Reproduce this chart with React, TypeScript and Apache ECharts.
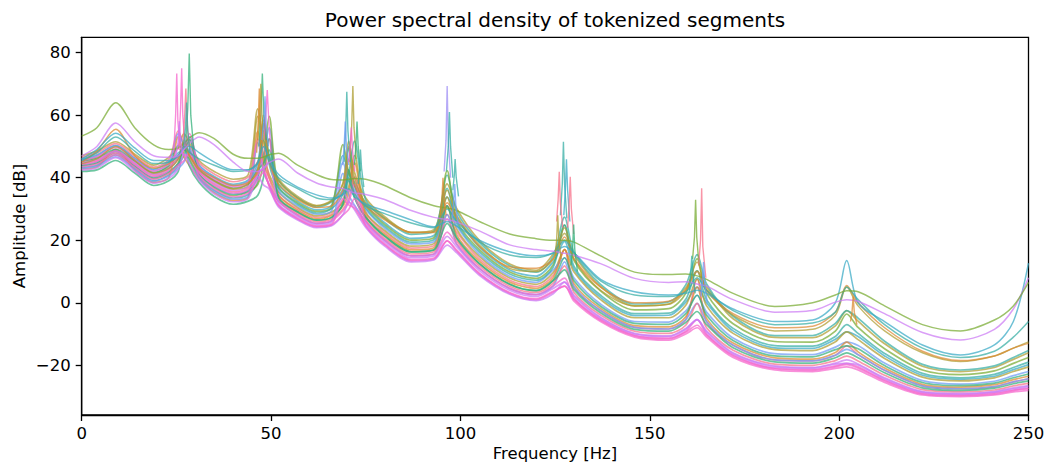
import React, { useEffect, useRef } from "react";
import * as echarts from "echarts";

// Frequency grid (Hz) shared by all spectra
const FREQ = [0, 4, 9, 14, 19, 23, 25.5, 27, 28.5, 31, 35, 40, 44, 46.5, 48, 49.5, 52, 57, 62, 66, 69, 70.5, 72, 75, 80, 87, 93, 96.5, 99, 105, 113, 120, 124.5, 127.5, 130, 137, 146, 155, 159.5, 162.5, 165, 172, 183, 193, 199, 202, 205, 212, 222, 232, 241, 246, 250];

const X_TICKS = [0, 50, 100, 150, 200, 250];
const Y_TICKS = [-20, 0, 20, 40, 60, 80];

// Dense band of spectra (dB)
const D1 = [43.5, 44.3, 47.3, 43.3, 39.5, 41.3, 44, 45.4, 48.4, 40.6, 36.4, 33.9, 35.1, 39.3, 41.6, 37.5, 31.2, 27, 24.5, 25.1, 33.3, 31.3, 30.3, 24.8, 18.8, 13.8, 14.3, 19.8, 16.9, 9.5, 3.3, 1.3, 3.7, 5.3, 0.5, -6, -11, -12, -10, -8, -11, -17.5, -21.5, -22, -21, -20.5, -21.5, -25.5, -29.5, -30, -29.5, -28.5, -28];
const D2 = [42.5, 43.1, 46.4, 42.1, 38.2, 39.8, 42.8, 47.4, 44.3, 39.2, 34.8, 32.3, 33.4, 40.4, 37.7, 36.4, 30.6, 26.5, 24, 24.6, 28.2, 32.2, 29.8, 24.1, 18.1, 13.1, 13.7, 18.4, 16, 8.8, 2.7, 0.7, 2.9, 6.6, 2, -4.9, -10, -10.8, -8.5, -5.4, -9.4, -16.3, -20.5, -20.9, -19.6, -19.4, -19.9, -24.3, -28.6, -29.2, -28.6, -27.5, -26.8];
const D3 = [44.5, 45.5, 48.5, 44.5, 40.8, 42.8, 46, 51.2, 47.3, 42, 38, 35.5, 36.8, 41.5, 50, 39.8, 33, 28.5, 25.9, 26.8, 30, 33.2, 40.2, 26.6, 20.6, 15.6, 16.3, 26.8, 19.8, 11.8, 5.3, 3.3, 6.3, 11.8, 3.3, -3.9, -9.1, -9.8, -7.2, -0.2, -8, -15.2, -19.6, -20, -18.5, -17.1, -18.6, -23.2, -27.8, -28.5, -27.9, -26.6, -25.8];
const D4 = [43, 43.7, 46.7, 42.7, 38.8, 40.5, 43, 45, 49.3, 39.9, 35.6, 33.1, 34.2, 51.2, 42, 37.8, 32.4, 28, 25.4, 26.2, 41.4, 34.5, 31.3, 26, 20, 15, 15.6, 28.2, 18.8, 11, 4.6, 2.6, 5.4, 13.1, 5.1, -2.5, -7.9, -8.4, -5.4, -0.2, -6, -13.6, -18.3, -18.6, -16.8, -14.9, -16.6, -21.6, -26.6, -27.5, -26.8, -25.3, -24.3];
const D5 = [42, 42.5, 45.5, 41.5, 37.5, 39, 42, 50.3, 43.5, 38.5, 34, 31.5, 32.5, 34.4, 40.1, 52.4, 33.6, 29, 26.4, 27.3, 31.6, 42.5, 33.8, 27.3, 21.3, 16.3, 16.9, 31, 20.7, 12.5, 5.9, 3.9, 7.1, 14.4, 7, -1.1, -6.6, -6.9, -3.5, 2.4, -4, -12.1, -17, -17.3, -15, -13.8, -14.7, -20.1, -25.5, -26.5, -25.7, -24, -22.8];
const D6 = [42.8, 43.4, 49.1, 42.4, 38.5, 40.1, 53.1, 46.7, 43.8, 39.6, 35.2, 32.7, 33.8, 54.8, 44.7, 40, 34.2, 29.5, 26.8, 27.9, 31, 35.4, 44.8, 27.9, 21.9, 16.9, 17.6, 31, 21.7, 13.3, 6.6, 4.6, 8, 17, 6.1, -1.8, -7.3, -7.7, -4.5, 5, -5, -12.9, -17.6, -18, -15.9, -12.6, -15.7, -20.9, -26.1, -27, -26.2, -24.6, -23.5];
const D7 = [45, 46.1, 48.5, 45.1, 41.4, 43.5, 46.3, 48.2, 52.2, 42.7, 38.8, 36.3, 37.6, 59.6, 47, 41.1, 35.4, 30.5, 27.8, 29, 32.3, 37, 47.1, 29.1, 23.1, 18.1, 18.9, 33.8, 23.6, 14.8, 7.9, 5.9, 9.7, 17, 9.8, 1, -4.8, -4.8, -0.8, 7.6, -1, -9.8, -15, -15.3, -12.5, -9.3, -11.8, -17.8, -23.8, -25, -24, -22, -20.5];
const D8 = [44, 44.9, 48.5, 43.9, 40.1, 42, 44.5, 47, 52.2, 41.3, 37.2, 34.7, 35.9, 40.4, 57.2, 44.3, 36.6, 31.5, 28.7, 30.1, 34.9, 49.4, 37.8, 30.4, 24.4, 19.4, 20.2, 36.6, 25.5, 16.3, 9.2, 7.2, 11.4, 24.8, 11.6, 2.4, -3.5, -3.3, 1.1, 10.2, 1, -8.2, -13.7, -13.9, -10.8, -7, -9.8, -16.2, -22.6, -24, -22.9, -20.7, -19];
const D9 = [46, 47.3, 50.3, 46.3, 42.7, 45, 47.9, 49.6, 53.1, 44.1, 40.4, 37.9, 39.3, 44.8, 58.4, 45.8, 37.8, 32.5, 29.7, 31.2, 47.1, 41.3, 38.6, 31.6, 25.6, 20.6, 21.5, 33.8, 27.4, 17.8, 10.5, 8.5, 13.1, 19.6, 10.7, 1.7, -4.1, -4, 0.2, 5, 0, -9, -14.4, -14.6, -11.7, -9.3, -10.8, -17, -23.2, -24.5, -23.5, -21.4, -19.8];
const D10 = [45.5, 46.7, 49.7, 45.7, 42.1, 44.3, 47, 49.2, 54.1, 43.4, 39.6, 37.1, 38.5, 52.4, 42.4, 37.7, 32.4, 28, 25.4, 26.2, 29.4, 32.1, 37.9, 26, 20, 15, 15.6, 22.6, 18.8, 11, 4.6, 2.6, 5.4, 7.9, 1.4, -5.3, -10.4, -11.3, -9.1, -5.4, -10, -16.7, -20.9, -21.3, -20.2, -19.4, -20.5, -24.7, -28.9, -29.5, -28.9, -27.9, -27.3];
const D11 = [43.8, 44.6, 47.9, 43.6, 39.8, 41.6, 44.8, 51.2, 46.1, 41, 36.8, 34.3, 35.5, 37.9, 44.8, 59.6, 37.2, 32, 29.2, 30.6, 50.6, 41.6, 37.4, 31, 25, 20, 20.8, 42.2, 26.4, 17, 9.8, 7.8, 12.2, 24.8, 13.5, 3.8, -2.3, -1.9, 3, 14.1, 3, -6.7, -12.4, -12.6, -9.1, -3.6, -7.9, -14.7, -21.5, -23, -21.8, -19.4, -17.5];
const D12 = [46.5, 47.9, 50.9, 46.9, 43.4, 45.8, 55, 50.8, 50.1, 44.8, 41.2, 38.7, 40.2, 45.2, 47.5, 52.4, 34.8, 30, 27.3, 28.4, 32.9, 42.5, 35.4, 28.5, 22.5, 17.5, 18.2, 28.2, 22.6, 14, 7.2, 5.2, 8.8, 17, 5.1, -2.5, -7.9, -8.4, -5.4, 7.6, -6, -13.6, -18.3, -18.6, -16.8, -13.8, -16.6, -21.6, -26.6, -27.5, -26.8, -25.3, -24.3];
const D13 = [44.8, 45.8, 48.5, 44.8, 41.1, 43.1, 46.4, 50.3, 47.6, 42.4, 38.4, 35.9, 37.2, 41.8, 42.9, 45.2, 31.8, 27.5, 24.9, 25.7, 35.6, 32.4, 31, 25.4, 19.4, 14.4, 15, 21.2, 17.9, 10.3, 4, 2, 4.6, 6.6, 2.4, -4.6, -9.8, -10.6, -8.2, -5.4, -9, -16, -20.2, -20.7, -19.3, -18.3, -19.6, -24, -28.4, -29, -28.4, -27.2, -26.5];
const D14 = [45.8, 47, 50.3, 46, 42.4, 44.6, 54.1, 50.4, 48.6, 43.8, 40, 37.5, 38.9, 43.1, 47.2, 56, 36, 31, 28.3, 29.5, 44.8, 39, 36.2, 29.8, 23.8, 18.8, 19.5, 31, 24.5, 15.5, 8.5, 6.5, 10.5, 14.4, 7.9, -0.4, -6, -6.2, -2.6, 2.4, -3, -11.3, -16.3, -16.6, -14.2, -12.6, -13.7, -19.3, -24.9, -26, -25.1, -23.3, -22];
const D15 = [43.3, 44, 47.3, 43, 39.1, 40.9, 44, 51.2, 45.4, 40.3, 36, 33.5, 34.6, 38.8, 57.2, 47.3, 39, 33.5, 30.6, 32.3, 36.2, 41.1, 51.7, 32.9, 26.9, 21.9, 22.8, 40.8, 29.3, 19.3, 11.8, 9.8, 14.8, 27.4, 16.2, 5.9, -0.4, 0.3, 5.7, 15.4, 6, -4.3, -10.5, -10.5, -6.6, -2.5, -4.9, -12.3, -19.7, -21.5, -20.2, -17.5, -15.3];
const D16 = [47, 48.5, 51.5, 47.5, 44, 46.5, 50, 54.1, 51, 45.5, 42, 39.5, 41, 62, 51.5, 46.6, 39.6, 34, 31.1, 32.8, 38.3, 51.7, 41.8, 33.5, 27.5, 22.5, 23.4, 38, 30.2, 20, 12.4, 10.4, 15.6, 22.2, 15.3, 5.2, -1, -0.4, 4.8, 10.2, 5, -5.1, -11.1, -11.2, -7.4, -2.5, -5.9, -13.1, -20.3, -22, -20.7, -18.1, -16];
const D17 = [45.3, 46.4, 49.1, 45.4, 41.7, 43.9, 50.3, 48.9, 48.2, 43.1, 39.2, 36.7, 38, 42.6, 44.6, 48.8, 33.6, 29, 26.4, 27.3, 31.6, 39.1, 33.8, 27.3, 21.3, 16.3, 16.9, 25.4, 20.7, 12.5, 5.9, 3.9, 7.1, 10.5, 4.2, -3.2, -8.5, -9.1, -6.3, -2.8, -7, -14.4, -18.9, -19.3, -17.6, -16, -17.6, -22.4, -27.2, -28, -27.3, -25.9, -25];
const D18 = [44.3, 45.2, 47.9, 44.2, 40.4, 42.4, 49.3, 47.5, 46.7, 41.7, 37.6, 35.1, 36.3, 41, 42.8, 37.2, 31, 26.8, 24.3, 24.9, 28.1, 29.8, 33.3, 24.5, 18.5, 13.5, 14, 19.8, 16.5, 9.2, 3, 1, 3.4, 5.3, 1.1, -5.6, -10.6, -11.6, -9.4, -7.2, -10.4, -17, -21.1, -21.6, -20.5, -19.8, -20.9, -25, -29.2, -29.7, -29.2, -28.1, -27.5];

// Upper spectra and outliers (dB)
const OL1 = [44.5, 46, 50, 45.5, 41.5, 43, 46, 52, 47, 42.5, 39, 36.5, 38, 43, 60, 46, 39, 33.5, 31, 32.5, 38, 50, 40, 32, 27, 22.5, 22.8, 36, 28, 18.5, 11, 10, 14, 24, 14, 4, -1, -0.5, 4, 13, 4, -4, -9, -8.5, -4, 5, -1, -9, -16, -18.8, -17, -14.5, -12.5];
const O1 = [45, 48.5, 55.5, 47, 43, 44.5, 47, 50, 47, 43, 40, 37.5, 38.5, 42, 55, 45, 38, 33, 30.5, 31, 36, 46, 38, 31, 26.5, 22.5, 22.5, 32, 27, 18, 11.5, 11, 14, 21, 14, 5, 0, 0.5, 4, 10, 4, -3.5, -8, -7.5, -3, 5.5, 0, -8, -15.5, -18.5, -17, -14.5, -13];
const T2 = [45.5, 48, 53, 48.5, 44.5, 45, 47, 50, 48, 46, 44, 42, 42.5, 45, 52, 45, 40, 36.5, 33.5, 33, 35, 40, 35, 31, 28.5, 25.5, 24, 30, 26, 19.5, 15.3, 14.5, 16, 20, 16, 7, 2.5, 2, 3.5, 8, 4, -2.5, -7, -6.5, -3, 5, 1, -7, -14.5, -17.5, -15.5, -11, -6];
const T1 = [46, 49, 54.2, 49.5, 45.5, 45.5, 47, 49.5, 50, 48, 45, 42.5, 42.5, 44.5, 50, 46, 41, 37, 34.5, 33.5, 34.5, 36.5, 34, 31.5, 29.5, 26.5, 24.3, 26, 24.5, 20, 16.3, 15, 15.8, 18, 16, 7.5, 3.5, 2.5, 3, 4, 3, -2, -6, -5.5, 0, 13.5, 0, -6, -13.5, -16.7, -13.5, -6, 12.7];
const M = [47, 50, 57.5, 51.5, 47, 46.5, 47, 49, 51, 53, 50.5, 45, 42, 42, 43, 44.8, 46, 41.5, 38.3, 37, 36.5, 35.8, 35.2, 34.6, 33, 29.5, 27.3, 26.6, 25.8, 23, 18.5, 17, 16.5, 15.8, 15.2, 12.5, 7.8, 6.5, 6.7, 6, 5.3, 1, -3, -2.5, 0.2, 1, 0.5, -3.5, -9.5, -11.9, -8.5, -2, 8];
const G = [53.3, 56, 64, 56, 50.5, 49, 49.5, 51, 52.8, 54.4, 52.5, 47.5, 46.2, 46.2, 46.6, 47.3, 47.8, 44, 41, 39.4, 39.3, 39.5, 39.7, 39.5, 37.5, 33.5, 31, 30.3, 29.5, 26, 22, 20.5, 20, 20, 19.4, 15, 9.8, 9, 9.2, 8.6, 7.5, 3, -1.2, 0, 2.5, 3.8, 3.5, -1, -7, -9, -5.5, -1, 6.5];

// Narrow resonance spikes: frequencies (Hz) and levels (dB)
const SPIKE_FREQ = [
  [27.4, 28.0, 28.4, 28.8, 29.6],
  [24.3, 24.8, 25.1, 25.4, 26.0],
  [25.6, 26.1, 26.4, 26.7, 27.3],
  [26.8, 27.2, 27.5, 27.8, 28.4],
  [26.9, 27.4, 27.7, 28.0, 28.6],
  [24.9, 25.5, 25.8, 26.1, 26.7],
  [46.8, 47.3, 47.7, 48.1, 48.7],
  [48.2, 48.6, 49.0, 49.4, 50.0],
  [46.5, 47.0, 47.3, 47.6, 48.3],
  [46.2, 46.6, 46.9, 47.2, 47.8],
  [47.6, 48.1, 48.4, 48.7, 49.3],
  [69.2, 69.7, 70.0, 70.3, 70.9],
  [70.8, 71.3, 71.6, 71.9, 72.5],
  [68.9, 69.3, 69.6, 69.9, 70.5],
  [70.5, 70.9, 71.2, 71.5, 72.1],
  [72.0, 72.4, 72.7, 73.0, 73.6],
  [73.0, 73.4, 73.6, 73.9, 74.5],
  [95.7, 96.2, 96.5, 96.8, 97.4],
  [96.3, 96.8, 97.1, 97.4, 98.0],
  [98.0, 98.4, 98.6, 98.9, 99.5],
  [94.6, 95.1, 95.4, 95.7, 96.2],
  [97.8, 98.2, 98.5, 98.8, 99.4],
  [126.4, 126.9, 127.2, 127.5, 128.1],
  [127.3, 127.7, 128.0, 128.3, 128.9],
  [125.4, 125.8, 126.1, 126.4, 127.0],
  [128.3, 128.7, 129.0, 129.3, 129.9],
  [125.0, 125.4, 125.7, 126.0, 126.6],
  [129.2, 129.6, 129.9, 130.2, 130.9],
  [161.3, 161.8, 162.1, 162.4, 163.0],
  [162.9, 163.4, 163.7, 164.0, 164.8],
  [160.4, 160.8, 161.1, 161.4, 162.0],
  [163.5, 163.9, 164.2, 164.5, 165.2],
  [203.0, 203.4, 203.7, 204.0, 204.7],
];
const SPIKE_DB = [
  [50, 62, 79.7, 60, 49],
  [48, 60, 73.3, 58, 49],
  [50, 62, 75, 60, 50],
  [52, 60, 68.5, 58, 50],
  [50, 56, 64, 55, 48],
  [47, 52, 58, 52, 47],
  [50, 60, 73.3, 60, 52],
  [52, 60, 68, 58, 48],
  [52, 62, 70, 60, 50],
  [48, 58, 68.5, 58, 50],
  [52, 58, 66, 57, 50],
  [45, 55, 67.5, 55, 45],
  [47, 57, 69.3, 56, 46],
  [44, 50, 58, 50, 44],
  [45, 50, 56, 49, 42],
  [44, 50, 58, 50, 42],
  [38, 43, 49, 43, 37],
  [42, 52, 69.3, 52, 40],
  [42, 50, 61, 50, 40],
  [36, 41, 46, 40, 34],
  [28, 33, 40, 33, 28],
  [27, 32, 38, 31, 25],
  [28, 38, 51.5, 38, 27],
  [28, 36, 45.9, 36, 26],
  [26, 33, 41.9, 32, 24],
  [24, 31, 40.3, 30, 22],
  [15, 20, 28, 20, 14],
  [12, 17, 25, 17, 10],
  [14, 21, 32.9, 21, 12],
  [12, 20, 36.6, 18, 8],
  [4, 9, 15, 9, 3],
  [2, 7, 13, 6, 0],
  [-6, -3, 2, -3, -7],
];

// ---- styling (kept separate from the data) ----
const COLORS: Record<string, string> = {
  red: "#f77189",
  orange: "#dc8932",
  olive: "#ae9d31",
  green: "#77ab31",
  seagreen: "#33b07a",
  teal: "#36ada4",
  cyan: "#38a9c5",
  blue: "#6e9bf4",
  purple: "#cc7af4",
  magenta: "#f565cc",
  violet: "#9d8df4",
};

const LINE_SET: [number[], string][] = [
  [D16, "olive"], [D9, "cyan"], [D12, "red"], [D15, "teal"], [D7, "olive"],
  [D14, "blue"], [D11, "green"], [D8, "teal"], [D6, "orange"], [D5, "seagreen"],
  [D4, "blue"], [D3, "red"], [D17, "seagreen"], [D10, "magenta"], [D13, "purple"],
  [D18, "magenta"], [D2, "purple"], [D1, "magenta"],
  [OL1, "olive"], [O1, "orange"], [T2, "teal"], [T1, "cyan"], [M, "purple"], [G, "green"],
];
const SPIKE_COLORS = [
  "seagreen", "magenta", "magenta", "red", "teal", "purple",
  "seagreen", "magenta", "olive", "orange", "blue",
  "teal", "olive", "blue", "magenta", "seagreen", "teal",
  "violet", "teal", "teal", "orange", "blue",
  "teal", "cyan", "red", "red", "olive", "seagreen",
  "green", "red", "teal", "blue",
  "orange",
];

const FONT = '"DejaVu Sans", "Liberation Sans", sans-serif';

export default function App() {
  const ref = useRef<HTMLDivElement>(null);

  useEffect(() => {
    if (!ref.current) return;
    const chart = echarts.init(ref.current, null, { renderer: "svg" });

    const series: any[] = [];
    LINE_SET.forEach(([vals, c], idx) => {
      series.push({
        type: "line",
        data: FREQ.map((f, i) => [f, vals[i]]),
        symbol: "none",
        smooth: 0.3,
        silent: true,
        z: 2,
        lineStyle: { color: COLORS[c], width: idx < 18 ? 1.7 : 1.5, opacity: 0.72 },
      });
    });
    SPIKE_FREQ.forEach((fs, k) => {
      series.push({
        type: "line",
        data: fs.map((f, i) => [f, SPIKE_DB[k][i]]),
        symbol: "none",
        silent: true,
        z: 3,
        lineStyle: { color: COLORS[SPIKE_COLORS[k]], width: 1.4, opacity: 0.75 },
      });
    });

    const axisCommon = {
      axisLine: { show: true, onZero: false, lineStyle: { color: "#000", width: 1.3 } },
      splitLine: { show: false },
    };

    chart.setOption({
      animation: false,
      backgroundColor: "#fff",
      grid: {
        left: 81.7,
        right: 21.5,
        top: 37.3,
        bottom: 59,
        show: true,
        borderColor: "#000",
        borderWidth: 1.3,
      },
      xAxis: {
        type: "value",
        min: 0,
        max: 250,
        interval: 50,
        ...axisCommon,
        axisTick: { show: true, length: 6, lineStyle: { color: "#000", width: 1.3 } },
        axisLabel: {
          color: "#000",
          fontSize: 16.5,
          fontFamily: FONT,
          margin: 10,
          customValues: X_TICKS,
        },
      },
      yAxis: {
        type: "value",
        min: -35.9,
        max: 84.9,
        ...axisCommon,
        axisTick: {
          show: true,
          length: 6,
          customValues: Y_TICKS,
          lineStyle: { color: "#000", width: 1.3 },
        },
        axisLabel: {
          color: "#000",
          fontSize: 16.5,
          fontFamily: FONT,
          margin: 11,
          customValues: Y_TICKS,
          formatter: (v: number) => (v < 0 ? "\u2212" + Math.abs(v) : String(v)),
        },
      },
      graphic: [
        {
          type: "text",
          x: 555,
          y: 20,
          style: {
            text: "Power spectral density of tokenized segments",
            font: "20px " + FONT,
            fill: "#000",
            align: "center",
            verticalAlign: "middle",
            textAlign: "center",
            textVerticalAlign: "middle",
          },
        },
        {
          type: "text",
          x: 555,
          y: 453.5,
          style: {
            text: "Frequency [Hz]",
            font: "16.5px " + FONT,
            fill: "#000",
            align: "center",
            verticalAlign: "middle",
            textAlign: "center",
            textVerticalAlign: "middle",
          },
        },
        {
          type: "text",
          x: 19,
          y: 226,
          rotation: Math.PI / 2,
          style: {
            text: "Amplitude [dB]",
            font: "16.5px " + FONT,
            fill: "#000",
            align: "center",
            verticalAlign: "middle",
            textAlign: "center",
            textVerticalAlign: "middle",
          },
        },
      ],
      series,
    });

    return () => chart.dispose();
  }, []);

  return (
    <div
      ref={ref}
      style={{ position: "fixed", left: 0, top: 0, width: 1050, height: 474, background: "#fff" }}
    />
  );
}
